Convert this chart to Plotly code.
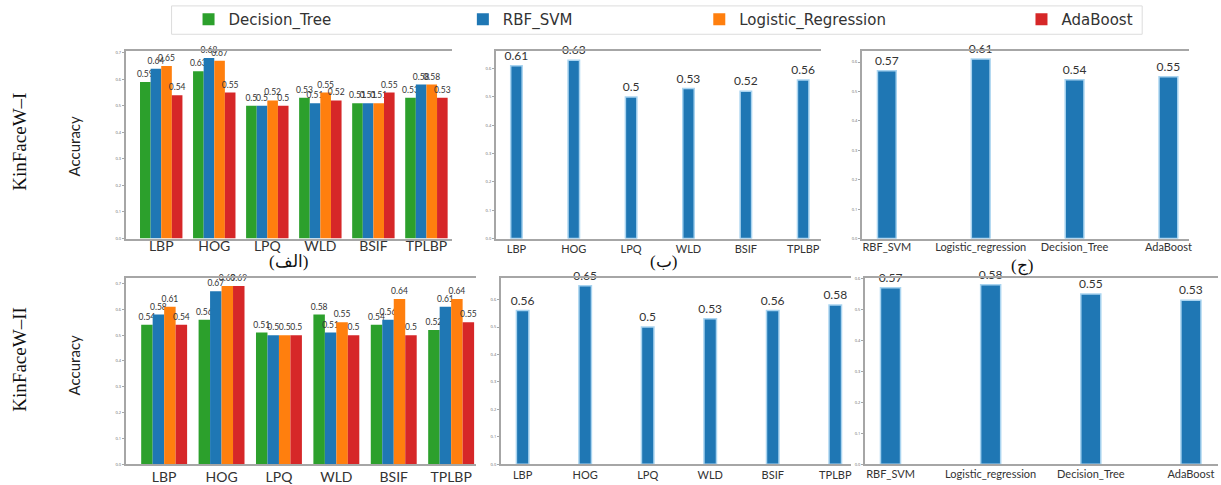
import plotly.graph_objects as go

# ---------------- data ----------------
features = ["LBP", "HOG", "LPQ", "WLD", "BSIF", "TPLBP"]
series_names = ["Decision_Tree", "RBF_SVM", "Logistic_Regression", "AdaBoost"]
classifier_ticks = ["RBF_SVM", "Logistic_regression", "Decision_Tree", "AdaBoost"]

kfw1_decision_tree = [0.59, 0.63, 0.50, 0.53, 0.51, 0.53]
kfw1_rbf_svm = [0.64, 0.68, 0.50, 0.51, 0.51, 0.58]
kfw1_logistic = [0.65, 0.67, 0.52, 0.55, 0.51, 0.58]
kfw1_adaboost = [0.54, 0.55, 0.50, 0.52, 0.55, 0.53]

kfw2_decision_tree = [0.54, 0.56, 0.51, 0.58, 0.54, 0.52]
kfw2_rbf_svm = [0.58, 0.67, 0.50, 0.51, 0.56, 0.61]
kfw2_logistic = [0.61, 0.69, 0.50, 0.55, 0.64, 0.64]
kfw2_adaboost = [0.54, 0.69, 0.50, 0.50, 0.50, 0.55]

kfw1_feature_svm = [0.61, 0.63, 0.50, 0.53, 0.52, 0.56]
kfw2_feature_svm = [0.56, 0.65, 0.50, 0.53, 0.56, 0.58]

kfw1_classifier = [0.57, 0.61, 0.54, 0.55]
kfw2_classifier = [0.57, 0.58, 0.55, 0.53]

panel_labels = ["(الف)", "(ب)", "(ج)"]
row_labels = ["KinFaceW–I", "KinFaceW–II"]
y_title = "Accuracy"

# ---------------- styling ----------------
W, H = 1221, 485
colors = ["#2ca02c", "#1f77b4", "#ff7f0e", "#d62728"]
spine = "#a6a6a6"
tick_font = "Lato, 'Open Sans', sans-serif"
legend_left_px = [189, 464, 701, 1024]


def px_x(p):
    return p / W


def px_y(p):
    return 1 - p / H


def labels(vals):
    return [f"{v:g}" for v in vals]


fig = go.Figure()

legend_ids = ["legend", "legend2", "legend3", "legend4"]
grouped = [
    (1, [kfw1_decision_tree, kfw1_rbf_svm, kfw1_logistic, kfw1_adaboost], True),
    (4, [kfw2_decision_tree, kfw2_rbf_svm, kfw2_logistic, kfw2_adaboost], False),
]
for ax, data, show in grouped:
    sfx = "" if ax == 1 else str(ax)
    for name, vals, c, lg in zip(series_names, data, colors, legend_ids):
        fig.add_trace(go.Bar(
            x=features, y=vals, name=name, marker_color=c,
            marker_line_width=0,
            text=labels(vals), texttemplate="%{text}", textposition="outside",
            textfont=dict(size=8.5, color="#333", family=tick_font),
            constraintext="none", cliponaxis=False,
            legendgroup=name, showlegend=show, legend=lg,
            xaxis=f"x{sfx}", yaxis=f"y{sfx}",
            offsetgroup=name,
        ))

single = [
    (2, features, kfw1_feature_svm),
    (5, features, kfw2_feature_svm),
    (3, classifier_ticks, kfw1_classifier),
    (6, classifier_ticks, kfw2_classifier),
]
for ax, cats, vals in single:
    fig.add_trace(go.Bar(
        x=cats, y=vals, width=0.2, marker_color="#1f77b4",
        marker_line=dict(color="#a9d4f0", width=1.5),
        text=labels(vals), texttemplate="%{text}", textposition="outside",
        textfont=dict(size=12, color="#333", family=tick_font),
        constraintext="none", cliponaxis=False, showlegend=False,
        xaxis=f"x{ax}", yaxis=f"y{ax}",
    ))

# axis geometry (pixels): left, right, top, bottom, xrange, ymax, tick font size, label standoff
geom = {
    1: (126, 453, 50, 242, [-0.67, 5.48], 0.707, 14, -6),
    2: (497, 823, 50, 242, [-0.36, 5.31], 0.663, 11, 0),
    3: (864, 1192, 50, 242, [-0.266, 3.22], 0.638, 11, -2),
    4: (126, 477, 282, 473, [-0.67, 5.43], 0.723, 14, -1),
    5: (502, 853, 282, 473, [-0.35, 5.25], 0.68, 11, 0),
    6: (867, 1221, 282, 473, [-0.256, 3.27], 0.603, 11, -1),
}

layout = dict(
    width=W, height=H, autosize=False,
    margin=dict(l=0, r=0, t=0, b=0),
    paper_bgcolor="white", plot_bgcolor="white",
    barmode="group", bargap=0.2, bargroupgap=0,
    showlegend=True,
)
for lg, lx in zip(legend_ids, legend_left_px):
    layout[lg] = dict(
        orientation="h", x=px_x(lx), xanchor="left", y=px_y(1), yanchor="top",
        borderwidth=0, bgcolor="rgba(0,0,0,0)",
        font=dict(family="DejaVu Sans", size=15, color="#333"),
        itemsizing="constant",
    )
for ax, (l, r, t, b, xr, ymax, fs, so) in geom.items():
    sfx = "" if ax == 1 else str(ax)
    layout[f"xaxis{sfx}"] = dict(
        domain=[px_x(l), px_x(r)], anchor=f"y{sfx}", range=xr,
        showline=True, linecolor=spine, linewidth=1.5, mirror=True,
        showgrid=False, ticks="", zeroline=False,
        tickfont=dict(family=tick_font, size=fs, color="#333"),
        tickangle=0, type="category", ticklabelstandoff=so,
    )
    layout[f"yaxis{sfx}"] = dict(
        domain=[px_y(b), px_y(t)], anchor=f"x{sfx}", range=[0, ymax],
        showline=True, linecolor=spine, linewidth=1.5, mirror=False,
        showgrid=False, zeroline=False, dtick=0.1, tickformat=".1f",
        ticks="outside", ticklen=2, tickcolor=spine,
        tickfont=dict(size=4, color="#666"),
    )
fig.update_layout(**layout)

# legend frame
fig.add_shape(type="rect", xref="paper", yref="paper",
              x0=px_x(172), x1=px_x(1145), y0=px_y(33), y1=px_y(4),
              line=dict(color="#dcdcdc", width=1), fillcolor="rgba(0,0,0,0)", layer="below")

# panel labels
serif = "'Liberation Serif', 'DejaVu Serif', serif"
for lbl, (cx, cy) in zip(panel_labels, [(289, 266), (665, 266), (1025, 270)]):
    fig.add_annotation(text=lbl, x=px_x(cx), y=px_y(cy), xref="paper", yref="paper",
                       xanchor="center", yanchor="middle",
                       showarrow=False, font=dict(family=serif, size=17, color="#111"))

for lbl, cy_row, cy_acc in zip(row_labels, [143, 366], [148, 372]):
    fig.add_annotation(text=lbl, x=px_x(20), y=px_y(cy_row), xref="paper", yref="paper",
                       xanchor="center", yanchor="middle",
                       showarrow=False, textangle=-90,
                       font=dict(family=serif, size=19, color="#111"))
    fig.add_annotation(text=y_title, x=px_x(74), y=px_y(cy_acc), xref="paper", yref="paper",
                       xanchor="center", yanchor="middle",
                       showarrow=False, textangle=-90,
                       font=dict(family="Lato, sans-serif", size=15, color="#222"))

fig.write_html("out.html", config={"displayModeBar": False},
               post_script="document.body.style.margin='0px';")
